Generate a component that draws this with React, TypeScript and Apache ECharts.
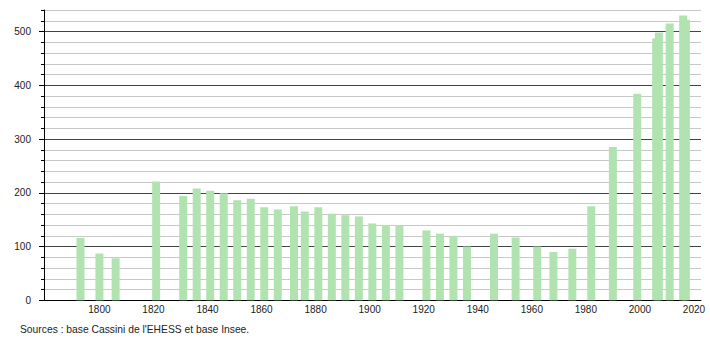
import React, { useEffect, useRef } from "react";
import * as echarts from "echarts";

const years = [
  1793, 1800, 1806, 1821, 1831, 1836, 1841, 1846, 1851, 1856, 1861, 1866, 1872, 1876, 1881, 1886, 1891, 1896,
  1901, 1906, 1911, 1921, 1926, 1931, 1936, 1946, 1954, 1962, 1968, 1975, 1982, 1990, 1999, 2006, 2007, 2011,
  2016, 2017,
];
const population = [
  116, 87, 78, 221, 194, 208, 204, 199, 186, 189, 173, 169, 175, 165, 173, 161, 158, 156,
  143, 140, 140, 130, 124, 120, 100, 124, 117, 100, 90, 96, 175, 285, 384, 487, 498, 515,
  530, 522,
];
const xTickLabels = [1800, 1820, 1840, 1860, 1880, 1900, 1920, 1940, 1960, 1980, 2000, 2020];
const yTickLabels = [0, 100, 200, 300, 400, 500];
const sourceText = "Sources : base Cassini de l'EHESS et base Insee.";

const FONT = "'Liberation Sans', Arial, sans-serif";

export default function App() {
  const ref = useRef<HTMLDivElement>(null);
  useEffect(() => {
    if (!ref.current) return;
    const chart = echarts.init(ref.current, null, { renderer: "svg" });
    const data = years.map((y, i) => [y, population[i]]);
    chart.setOption({
      animation: false,
      backgroundColor: "#ffffff",
      grid: { left: 44, right: 9, top: 10, bottom: 39.7, containLabel: false },
      xAxis: {
        type: "value",
        min: 1779.5,
        max: 2022.6,
        axisLine: { show: true, lineStyle: { color: "#000", width: 1 } },
        axisTick: { show: false },
        splitLine: { show: false },
        axisLabel: {
          customValues: xTickLabels,
          color: "#222",
          fontFamily: FONT,
          fontSize: 10,
          margin: 4,
          formatter: (v: number) => String(v),
        },
      },
      yAxis: [
        {
          type: "value",
          position: "left",
          min: 0,
          max: 540,
          interval: 20,
          axisLine: { show: true, lineStyle: { color: "#000", width: 1 } },
          axisTick: { show: true, length: 3, lineStyle: { color: "#000" } },
          axisLabel: { show: false },
          splitLine: {
            show: true,
            lineStyle: { color: ["#444", "#c8c8c8", "#c8c8c8", "#c8c8c8", "#c8c8c8"], width: 1 },
          },
        },
        {
          type: "value",
          position: "left",
          min: 0,
          max: 540,
          axisLine: { show: false },
          axisTick: { show: true, length: 5, customValues: yTickLabels, lineStyle: { color: "#000" } },
          splitLine: { show: false },
          axisLabel: {
            customValues: yTickLabels,
            color: "#222",
            fontFamily: FONT,
            fontSize: 10,
            margin: 13,
            formatter: (v: number) => String(v),
          },
        },
      ],
      series: [
        {
          type: "bar",
          xAxisIndex: 0,
          yAxisIndex: 0,
          data,
          barWidth: 8,
          itemStyle: { color: "#b1e3b1" },
          z: 3,
        },
      ],
      graphic: [
        {
          type: "text",
          left: 20,
          top: 324,
          style: { text: sourceText, fill: "#222", font: `10.3px ${FONT}` },
        },
      ],
    });
    return () => chart.dispose();
  }, []);
  return (
    <div
      ref={ref}
      style={{ position: "fixed", left: 0, top: 0, width: 710, height: 340, background: "#fff" }}
    />
  );
}
